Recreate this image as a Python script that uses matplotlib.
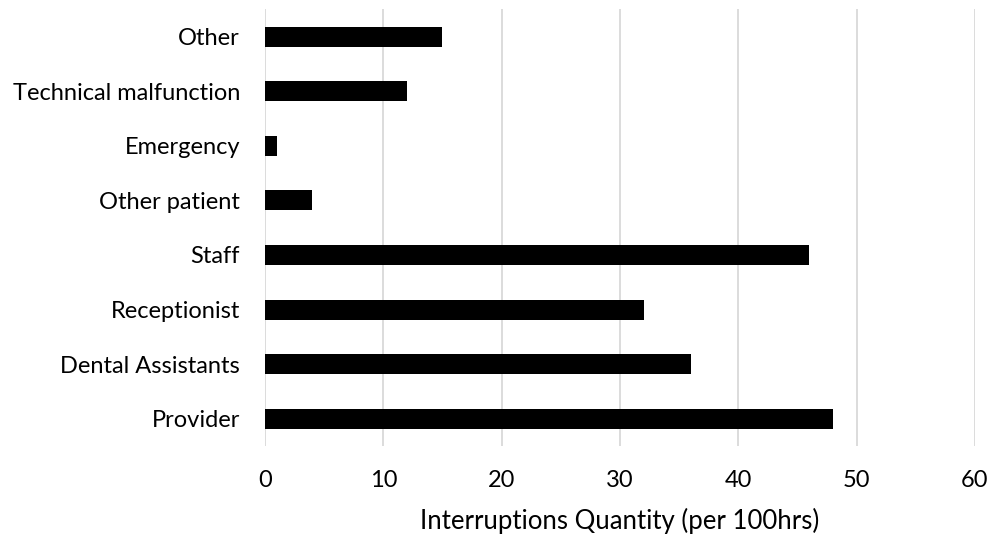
import matplotlib
matplotlib.use("Agg")
import matplotlib.pyplot as plt

# categories from bottom to top, as drawn
categories = ["Provider", "Dental Assistants", "Receptionist", "Staff",
              "Other patient", "Emergency", "Technical malfunction", "Other"]
values = [48, 36, 32, 46, 4, 1, 12, 15]
x_ticks = [0, 10, 20, 30, 40, 50, 60]

plt.rcParams['font.family'] = ['Lato', 'DejaVu Sans']

fig = plt.figure(figsize=(9.91, 5.35), dpi=100)
ax = fig.add_axes([0.2674, 0.1664, 0.7164, 0.816])

ax.barh(range(len(categories)), values, height=0.366, color="black", zorder=3)

ax.set_xlim(0, 60)
ax.set_ylim(-0.5, len(categories) - 0.5)
ax.set_xticks(x_ticks)
ax.set_yticks(range(len(categories)))
ax.set_yticklabels(categories)
ax.grid(axis="x", color="#d9d9d9", linewidth=1.3, zorder=0)
for s in ax.spines.values():
    s.set_visible(False)
ax.tick_params(axis="both", length=0, labelsize=17, colors="black")
ax.tick_params(axis="y", pad=18)
ax.tick_params(axis="x", pad=17.5)
ax.set_xlabel("Interruptions Quantity (per 100hrs)", fontsize=18.5, labelpad=12)

fig.savefig("out.png", dpi=100)
